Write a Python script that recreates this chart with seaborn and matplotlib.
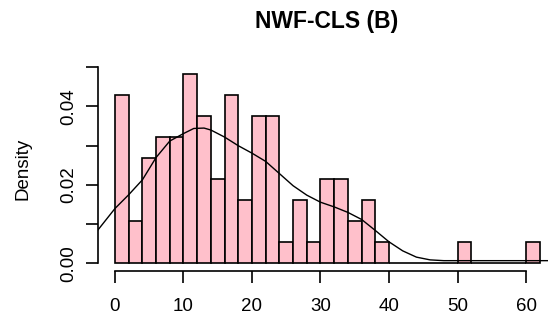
import numpy as np
import pandas as pd
import matplotlib
matplotlib.use("Agg")
import matplotlib.pyplot as plt
import seaborn as sns

# Histogram: left edge of each 2-unit bin and its number of observations
bin_start = [0, 2, 4, 6, 8, 10, 12, 14, 16, 18, 20, 22, 24, 26, 28, 30, 32, 34, 36, 38, 50, 60]
bin_count = [8, 2, 5, 6, 6, 9, 7, 4, 8, 3, 7, 7, 1, 3, 1, 4, 4, 2, 3, 1, 1, 1]
bin_width = 2
bin_edges = list(range(0, 64, bin_width))

# Smoothed density curve
curve_x = [-2.5, 0, 2, 4, 6, 8, 10, 11.5, 13, 14, 16, 18, 20, 22, 24, 26, 28, 30,
           32, 34, 36, 38, 40, 42, 44, 46, 48, 64.5]
curve_y = [0.0085, 0.0140, 0.0175, 0.0213, 0.0270, 0.0312, 0.0331, 0.0344, 0.0345,
           0.0340, 0.0322, 0.0300, 0.0281, 0.0260, 0.0229, 0.0198, 0.0174, 0.0156,
           0.0144, 0.0130, 0.0112, 0.0084, 0.0055, 0.0032, 0.0016, 0.0009, 0.0007,
           0.0007]

y_ticks = [0.00, 0.01, 0.02, 0.03, 0.04, 0.05]
y_tick_labels = ["0.00", "", "0.02", "", "0.04", ""]
x_ticks = [0, 10, 20, 30, 40, 50, 60]
title = "NWF-CLS (B)"

sns.set_theme(style="white")
plt.rcParams["font.family"] = ["Liberation Sans", "DejaVu Sans"]

hist_df = pd.DataFrame({"mid": [s + bin_width / 2 for s in bin_start], "n": bin_count})
curve_df = pd.DataFrame({"x": curve_x, "y": curve_y})

W, H = 548, 322
fig = plt.figure(figsize=(W / 100, H / 100), dpi=100)
fig.patch.set_facecolor("white")
left_px, right_px, top_px, bottom_px = 98, 556.7, 66, 271
ax = fig.add_axes([left_px / W, 1 - bottom_px / H,
                   (right_px - left_px) / W, (bottom_px - top_px) / H])
ax.set_facecolor("white")

sns.histplot(data=hist_df, x="mid", weights="n", bins=bin_edges, stat="density",
             color="#FFC0CB", edgecolor="black", linewidth=1.2, alpha=1,
             ax=ax, zorder=2)
sns.lineplot(data=curve_df, x="x", y="y", sort=False, color="black",
             linewidth=1.0, ax=ax, zorder=3)

# R-like limits: 4% padding around the data range
x_lo, x_hi = 0, 62
y_hi = max(bin_count) / (sum(bin_count) * bin_width)
ax.set_xlim(x_lo - 0.04 * (x_hi - x_lo), x_hi + 0.04 * (x_hi - x_lo))
ax.set_ylim(-0.04 * y_hi, y_hi * 1.04)

for side in ["top", "right"]:
    ax.spines[side].set_visible(False)
for side in ["left", "bottom"]:
    ax.spines[side].set_linewidth(1.2)
    ax.spines[side].set_color("black")
ax.spines["bottom"].set_bounds(0, 60)
ax.spines["left"].set_bounds(0, 0.05)

ax.set_xticks(x_ticks)
ax.set_xticklabels([str(t) for t in x_ticks])
ax.set_yticks(y_ticks)
ax.set_yticklabels(y_tick_labels, rotation=90, va="center")
ax.tick_params(axis="both", which="major", length=8.6, width=1.2, color="black",
               labelsize=13.5, labelcolor="black", direction="out")
ax.tick_params(axis="x", pad=10.5, bottom=True)
ax.tick_params(axis="y", pad=6.5, left=True)

ax.set_xlabel("")
ax.set_ylabel("Density", fontsize=13.5, color="black", va="center")
ax.yaxis.set_label_coords((22.7 - left_px) / (right_px - left_px), 0.5)
ax.grid(False)

fig.text(327 / W, 1 - 21.7 / H, title, ha="center", va="center",
         fontsize=16.5, fontweight="bold", color="black")

fig.savefig("out.png", dpi=100, facecolor="white")
